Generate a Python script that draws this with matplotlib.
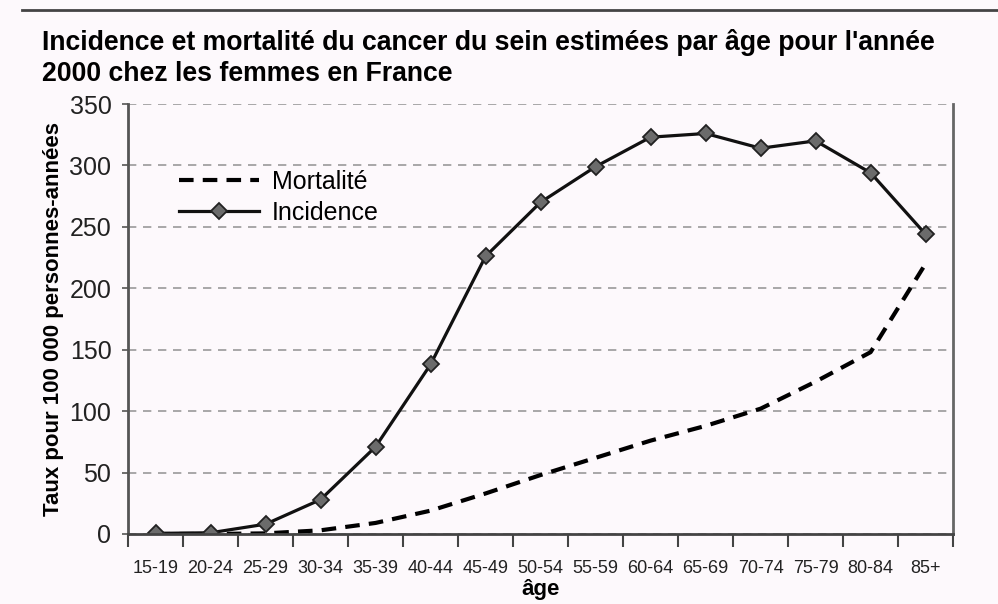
import matplotlib
matplotlib.use("Agg")
import matplotlib.pyplot as plt
from matplotlib.lines import Line2D
import numpy as np

categories = ["15-19", "20-24", "25-29", "30-34", "35-39", "40-44", "45-49",
              "50-54", "55-59", "60-64", "65-69", "70-74", "75-79", "80-84", "85+"]
incidence = [0.5, 1, 8, 28, 71, 138, 226, 270, 299, 323, 326, 314, 320, 294, 244]
mortalite = [0, 0, 0.5, 3, 9, 19, 33, 48, 62, 76, 88, 102, 124, 148, 220]
yticks = [0, 50, 100, 150, 200, 250, 300, 350]

FONT = ["Liberation Sans Narrow", "Liberation Sans", "DejaVu Sans"]
plt.rcParams["font.family"] = FONT
bg = "#fdf9fc"

fig = plt.figure(figsize=(9.98, 6.04), dpi=100, facecolor=bg)
ax = fig.add_axes([0.1283, 0.1159, 0.8267, 0.7119], facecolor=bg)

x = np.arange(len(categories))
ax.plot(x, mortalite, color="black", lw=3, linestyle=(0, (3.5, 2.2)), label="Mortalité")
ax.plot(x, incidence, color="#111111", lw=2.3, marker="D", markersize=8,
        markerfacecolor="#6b6b6b", markeredgecolor="#222222", markeredgewidth=1.3,
        label="Incidence")

ax.set_xlim(-0.5, len(categories) - 0.5)
ax.set_ylim(0, 350)
ax.set_yticks(yticks)
ax.set_yticklabels([str(v) for v in yticks], fontsize=18, color="#222222")
ax.set_xticks(x)
ax.set_xticklabels(categories, fontsize=13, color="#222222")
ax.tick_params(axis="x", which="major", length=0, pad=19)
ax.set_xticks(np.arange(-0.5, len(categories) + 0.5, 1), minor=True)
ax.tick_params(axis="x", which="minor", length=9, width=1.5, color="#444444", direction="out")
ax.tick_params(axis="y", length=4, width=1.2, color="#555555", pad=8)

ax.grid(axis="y", color="#9a9a9a", linestyle=(0, (5, 4)), lw=1.2)
ax.set_axisbelow(True)
ax.spines["top"].set_visible(False)
ax.spines["left"].set_color("#555555")
ax.spines["left"].set_linewidth(2)
ax.spines["right"].set_color("#666666")
ax.spines["right"].set_linewidth(2)
ax.spines["bottom"].set_color("#444444")
ax.spines["bottom"].set_linewidth(2)

ax.set_ylabel("Taux pour 100 000 personnes-années", fontsize=16, fontweight="bold", labelpad=4)
ax.set_xlabel("âge", fontsize=16, fontweight="bold", labelpad=1)

ax.legend(loc="upper left", bbox_to_anchor=(0.035, 0.9), frameon=False, fontsize=18,
          handlelength=3.2, handletextpad=0.5, labelspacing=0.3)

fig.text(0.042, 0.952, "Incidence et mortalité du cancer du sein estimées par âge pour l'année\n2000 chez les femmes en France",
         fontsize=19.2, fontweight="bold", va="top", ha="left", linespacing=1.25)
fig.add_artist(Line2D([0.022, 1.0], [0.983, 0.983], color="#444444", lw=2))

fig.savefig("out.png", dpi=100, facecolor=bg)
